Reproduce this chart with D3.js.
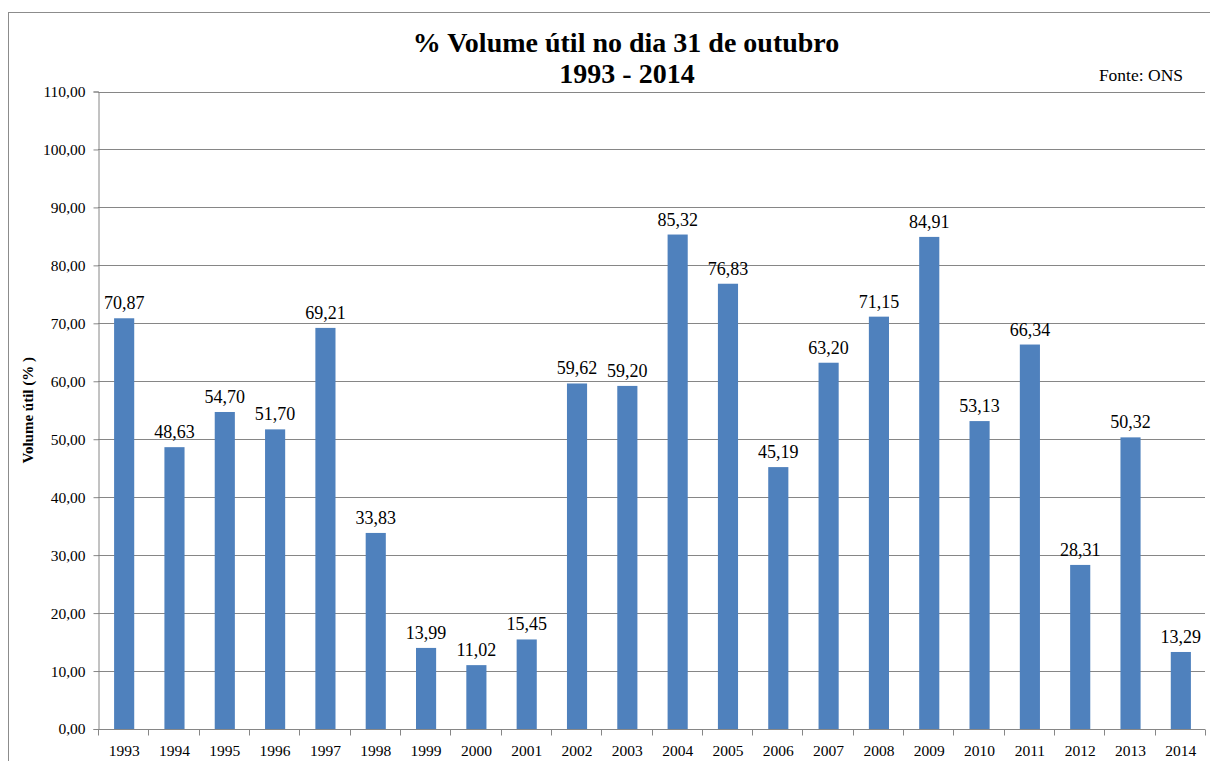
<!DOCTYPE html>
<html>
  <head>
    <meta charset="utf-8" />
    <script src="https://d3js.org/d3.v7.min.js"></script>
    <style>
      body {
        margin: 0;
        background: #ffffff;
      }
    </style>
  </head>
  <body>
    <div id="chartContainer"></div>
  </body>

  <script type="text/javascript">
    const years = [
      "1993", "1994", "1995", "1996", "1997", "1998", "1999", "2000",
      "2001", "2002", "2003", "2004", "2005", "2006", "2007", "2008",
      "2009", "2010", "2011", "2012", "2013", "2014",
    ];
    const volume = [
      70.87, 48.63, 54.7, 51.7, 69.21, 33.83, 13.99, 11.02, 15.45, 59.62,
      59.2, 85.32, 76.83, 45.19, 63.2, 71.15, 84.91, 53.13, 66.34, 28.31,
      50.32, 13.29,
    ];
    const yTicks = [0, 10, 20, 30, 40, 50, 60, 70, 80, 90, 100, 110];

    const data = years.map((y, i) => ({ year: y, value: volume[i] }));

    const width = 1210,
      height = 761;
    const plotLeft = 98,
      plotRight = 1205,
      plotTop = 91.5,
      plotBottom = 729;
    const serif = "Liberation Serif";

    const fmt = (v) => v.toFixed(2).replace(".", ",");

    const svg = d3
      .select("#chartContainer")
      .append("svg")
      .attr("width", width)
      .attr("height", height);

    // outer chart border (cut off at right and bottom)
    svg
      .append("rect")
      .attr("x", 8.5)
      .attr("y", 12.5)
      .attr("width", 1400)
      .attr("height", 1000)
      .attr("fill", "none")
      .attr("stroke", "#8c8c8c")
      .attr("stroke-width", 1);

    const x = d3
      .scaleBand()
      .domain(years)
      .range([plotLeft + 1, plotRight + 1])
      .paddingInner(0.6)
      .paddingOuter(0.3);
    const xb = d3.scaleBand().domain(years).range([plotLeft, plotRight]);
    const y = d3.scaleLinear().domain([0, 110]).range([plotBottom, plotTop]);

    // gridlines
    svg
      .append("g")
      .selectAll("line")
      .data(yTicks.filter((d) => d > 0))
      .enter()
      .append("line")
      .attr("x1", plotLeft)
      .attr("x2", plotRight)
      .attr("y1", (d) => Math.round(y(d)) + 0.5)
      .attr("y2", (d) => Math.round(y(d)) + 0.5)
      .attr("stroke", "#868686");

    // y axis
    const yAxis = svg
      .append("g")
      .attr("transform", `translate(${plotLeft + 0.5},0)`)
      .call(
        d3.axisLeft(y).tickValues(yTicks).tickSize(5).tickPadding(8).tickFormat(fmt)
      );
    yAxis.select(".domain").attr("stroke", "#868686");
    yAxis.selectAll(".tick line").attr("stroke", "#868686");
    yAxis
      .selectAll(".tick text")
      .attr("fill", "#000")
      .attr("font-family", serif)
      .attr("font-size", 15.5);

    // bars
    svg
      .append("g")
      .selectAll("rect")
      .data(data)
      .enter()
      .append("rect")
      .attr("x", (d) => x(d.year))
      .attr("y", (d) => y(d.value))
      .attr("width", x.bandwidth())
      .attr("height", (d) => plotBottom - y(d.value))
      .attr("fill", "#4f81bd");

    // x axis
    const xAxisG = svg
      .append("g")
      .attr("transform", `translate(0,${plotBottom + 0.5})`);
    xAxisG
      .append("line")
      .attr("x1", plotLeft)
      .attr("x2", plotRight)
      .attr("stroke", "#868686");
    xAxisG
      .selectAll("line.tk")
      .data(years.concat(["end"]))
      .enter()
      .append("line")
      .attr("class", "tk")
      .attr("x1", (d, i) => Math.round(plotLeft + i * xb.bandwidth()) + 0.5)
      .attr("x2", (d, i) => Math.round(plotLeft + i * xb.bandwidth()) + 0.5)
      .attr("y1", 0)
      .attr("y2", 6)
      .attr("stroke", "#868686");
    xAxisG
      .selectAll("text")
      .data(years)
      .enter()
      .append("text")
      .attr("x", (d) => xb(d) + xb.bandwidth() / 2 + 1)
      .attr("y", 26)
      .attr("text-anchor", "middle")
      .attr("font-family", serif)
      .attr("font-size", 15.5)
      .text((d) => d);

    // value labels
    svg
      .append("g")
      .selectAll("text")
      .data(data)
      .enter()
      .append("text")
      .attr("x", (d) => x(d.year) + x.bandwidth() / 2)
      .attr("y", (d) => y(d.value) - 9)
      .attr("text-anchor", "middle")
      .attr("font-family", serif)
      .attr("font-size", 18)
      .text((d) => fmt(d.value));

    // title
    svg
      .append("text")
      .attr("x", 626)
      .attr("y", 52)
      .attr("text-anchor", "middle")
      .attr("font-family", serif)
      .attr("font-size", 28)
      .attr("font-weight", "bold")
      .text("% Volume útil no dia 31 de outubro");
    svg
      .append("text")
      .attr("x", 627)
      .attr("y", 83)
      .attr("text-anchor", "middle")
      .attr("font-family", serif)
      .attr("font-size", 28)
      .attr("font-weight", "bold")
      .text("1993 - 2014");

    svg
      .append("text")
      .attr("x", 1183)
      .attr("y", 81)
      .attr("text-anchor", "end")
      .attr("font-family", serif)
      .attr("font-size", 17.5)
      .text("Fonte: ONS");

    // y axis title
    svg
      .append("text")
      .attr("transform", `translate(33,${(plotTop + plotBottom) / 2}) rotate(-90)`)
      .attr("text-anchor", "middle")
      .attr("font-family", serif)
      .attr("font-size", 15)
      .attr("font-weight", "bold")
      .text("Volume  útil (% )");
  </script>
</html>
